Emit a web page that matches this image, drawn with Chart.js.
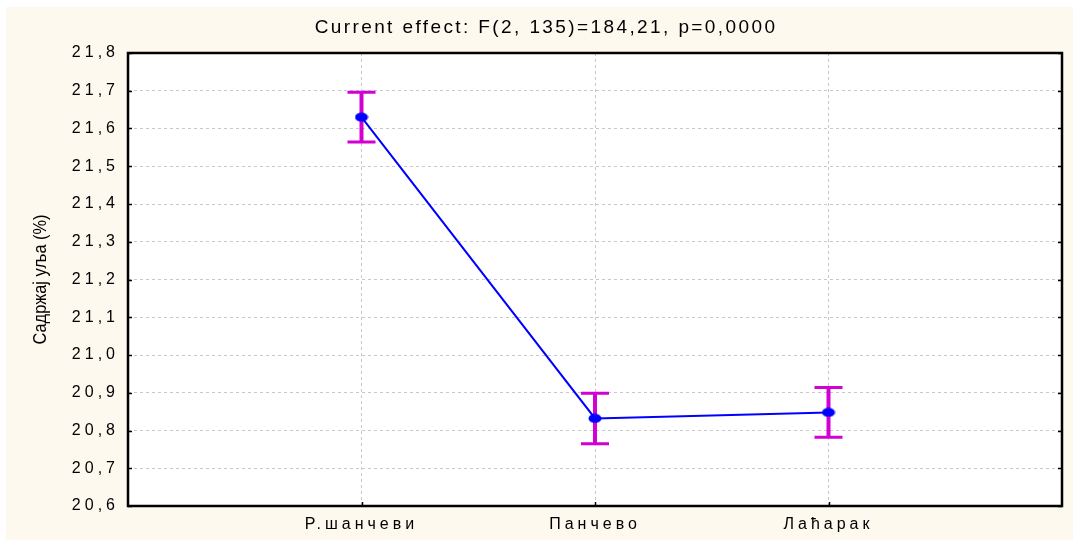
<!DOCTYPE html>
<html>
<head>
<meta charset="utf-8">
<script src="https://cdn.jsdelivr.net/npm/chart.js@4"></script>
<style>
  html, body { margin: 0; padding: 0; background: #ffffff; }
  #wrap { width: 1073px; height: 540px; position: relative; }
</style>
</head>
<body>
<div id="wrap"><canvas id="meanChart"></canvas></div>
<script>
// data
const sites = ['', 'Р.шанчеви', 'Панчево', 'Лаћарак', ''];
const oilMeans = [null, 21.63, 20.832, 20.848, null];
const ciHalf = [null, 0.066, 0.067, 0.066, null];
const yTicks = [20.6, 20.7, 20.8, 20.9, 21.0, 21.1, 21.2, 21.3, 21.4, 21.5, 21.6, 21.7, 21.8];

const plotTitle = 'Current effect: F(2, 135)=184,21, p=0,0000';
const yTitle = 'Садржај уља (%)';

const sansFont = '"Liberation Sans", Arial, sans-serif';

// flat blue dot, a bit wider than tall like the original
const dot = document.createElement('canvas');
dot.width = 14;
dot.height = 10;
(function () {
    const d = dot.getContext('2d');
    d.fillStyle = '#0000ff';
    d.beginPath();
    d.ellipse(7, 5, 6.5, 4.5, 0, 0, Math.PI * 2);
    d.fill();
})();

const decorPlugin = {
    id: 'decor',
    beforeDraw(chart) {
        const c = chart.ctx;
        const a = chart.chartArea;
        c.save();
        c.fillStyle = '#fef9ee';
        c.fillRect(6, 7, chart.width - 6, chart.height - 7);
        c.fillStyle = '#ffffff';
        c.fillRect(a.left, a.top, a.right - a.left, a.bottom - a.top);
        c.restore();
        // spaced digits / labels like the original
        c.letterSpacing = '4px';
    },
    beforeDatasetsDraw(chart) {
        const c = chart.ctx;
        const a = chart.chartArea;
        const y = chart.scales.y;
        const x = chart.scales.x;
        c.save();
        c.strokeStyle = '#000000';
        // small inward ticks
        c.lineWidth = 1.5;
        c.beginPath();
        yTicks.forEach(v => {
            const py = Math.round(y.getPixelForValue(v)) + 0.5;
            c.moveTo(a.left, py); c.lineTo(a.left + 4, py);
            c.moveTo(a.right, py); c.lineTo(a.right - 4, py);
        });
        for (let i = 1; i < sites.length - 1; i++) {
            const px = Math.round(x.getPixelForValue(i)) + 0.5;
            c.moveTo(px, a.bottom); c.lineTo(px, a.bottom - 4);
        }
        c.stroke();
        // frame
        c.lineWidth = 2.5;
        c.strokeRect(a.left, a.top, a.right - a.left, a.bottom - a.top);
        // error bars
        c.strokeStyle = '#d200d2';
        c.lineCap = 'butt';
        oilMeans.forEach((m, i) => {
            if (m === null) return;
            const px = x.getPixelForValue(i);
            const top = y.getPixelForValue(m + ciHalf[i]);
            const bot = y.getPixelForValue(m - ciHalf[i]);
            c.lineWidth = 4;
            c.beginPath();
            c.moveTo(px, top); c.lineTo(px, bot);
            c.stroke();
            c.lineWidth = 3;
            c.beginPath();
            c.moveTo(px - 14, top); c.lineTo(px + 14, top);
            c.moveTo(px - 14, bot); c.lineTo(px + 14, bot);
            c.stroke();
        });
        c.restore();
    },
    afterDraw(chart) {
        const c = chart.ctx;
        const a = chart.chartArea;
        c.save();
        c.fillStyle = '#000000';
        c.textBaseline = 'middle';
        c.textAlign = 'center';
        c.font = '19px ' + sansFont;
        c.letterSpacing = '2.4px';
        c.fillText(plotTitle, 546, 28);
        c.restore();

        c.save();
        c.letterSpacing = '0px';
        c.fillStyle = '#000000';
        c.textAlign = 'center';
        c.textBaseline = 'middle';
        c.font = '19px ' + sansFont;
        c.translate(41, (a.top + a.bottom) / 2);
        c.rotate(-Math.PI / 2);
        c.scale(0.86, 1);
        c.fillText(yTitle, 0, 0);
        c.restore();
    }
};

const ctx = document.getElementById('meanChart').getContext('2d');
const chart = new Chart(ctx, {
    type: 'line',
    data: {
        labels: sites,
        datasets: [{
            data: oilMeans,
            borderColor: '#0000ff',
            backgroundColor: '#0000ff',
            borderWidth: 2,
            pointStyle: dot,
            pointRadius: 6,
            tension: 0,
            spanGaps: false
        }]
    },
    options: {
        responsive: true,
        maintainAspectRatio: false,
        animation: false,
        layout: {
            padding: { top: 53, right: 11, bottom: 0, left: 0 }
        },
        scales: {
            x: {
                offset: false,
                border: { display: false },
                grid: {
                    color: '#c8c8c8',
                    drawTicks: false
                },
                ticks: {
                    color: '#000000',
                    font: { family: sansFont, size: 16 },
                    padding: 9,
                    maxRotation: 0,
                    autoSkip: false
                },
                afterFit(scale) { scale.height = 34; }
            },
            y: {
                min: 20.6,
                max: 21.8,
                border: { display: false },
                afterBuildTicks(scale) {
                    scale.ticks = yTicks.map(v => ({ value: v }));
                },
                grid: {
                    color: '#c8c8c8',
                    drawTicks: false
                },
                ticks: {
                    color: '#000000',
                    font: { family: sansFont, size: 16 },
                    padding: 9,
                    callback: v => Number(v).toFixed(1).replace('.', ',')
                },
                afterFit(scale) { scale.width = 128; }
            }
        },
        plugins: {
            legend: { display: false },
            tooltip: { enabled: false },
            title: { display: false }
        }
    },
    plugins: [decorPlugin]
});

// dashed grid lines
chart.options.scales.x.border.dash = [3, 3];
chart.options.scales.y.border.dash = [3, 3];
chart.update();
</script>
</body>
</html>
